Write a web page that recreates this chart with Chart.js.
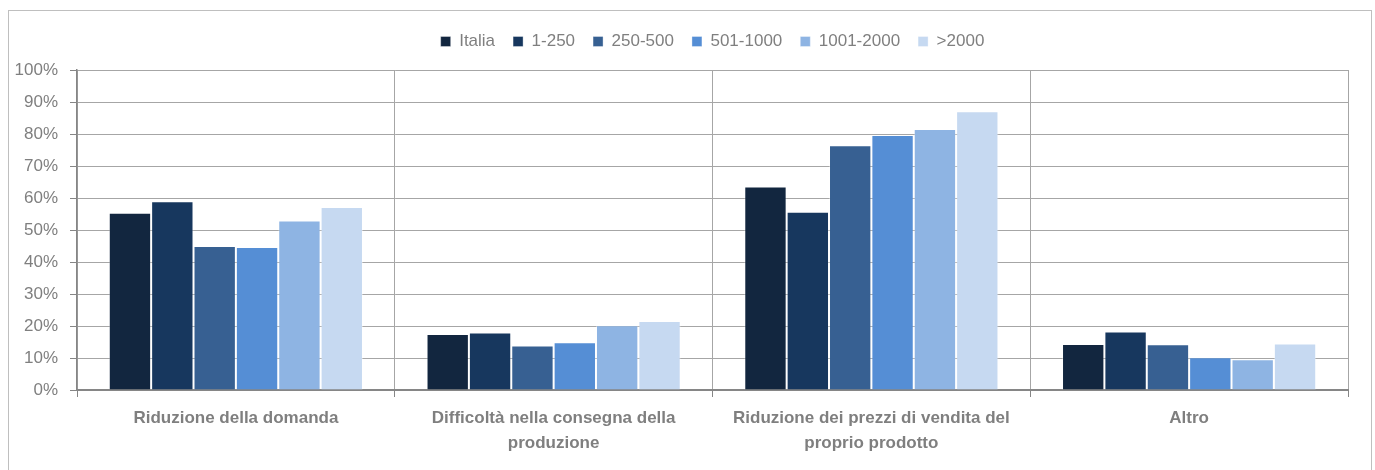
<!DOCTYPE html>
<html>
<head>
<meta charset="utf-8">
<script src="https://cdn.jsdelivr.net/npm/chart.js@4.4.1/dist/chart.umd.min.js"></script>
<style>
  html, body { margin: 0; padding: 0; background: #ffffff; }
  #wrap { width: 1375px; height: 470px; position: relative; }
</style>
</head>
<body>
<div id="wrap"><canvas id="c" width="1375" height="470"></canvas></div>
<script>
const categories = [
  "Riduzione della domanda",
  ["Difficoltà nella consegna della", "produzione"],
  ["Riduzione dei prezzi di vendita del", "proprio prodotto"],
  "Altro"
];
const seriesNames = ["Italia", "1-250", "250-500", "501-1000", "1001-2000", ">2000"];
const italia     = [55.4, 17.5, 63.6, 14.4];
const r1_250     = [59.0, 18.0, 55.7, 18.3];
const r250_500   = [45.0, 13.9, 76.5, 14.3];
const r501_1000  = [44.7, 14.9, 79.7, 10.2];
const r1001_2000 = [53.0, 20.2, 81.6,  9.6];
const r2000plus  = [57.2, 21.6, 87.1, 14.5];
const yTicks = [0, 10, 20, 30, 40, 50, 60, 70, 80, 90, 100];

const seriesValues = [italia, r1_250, r250_500, r501_1000, r1001_2000, r2000plus];
const colors = ["#12263f", "#17375e", "#376092", "#558ed5", "#8eb4e3", "#c6d9f1"];

const FONT = "'Liberation Sans', Arial, sans-serif";
const GREY = "#7f7f7f";

const framePlugin = {
  id: 'frame',
  beforeLayout(chart) {
    const lg = chart.legend;
    if (lg && !lg._fixedH) {
      const orig = lg.fit.bind(lg);
      lg.fit = function () { orig(); this.height = 55; };
      lg._fixedH = true;
    }
  },
  beforeDraw(chart) {
    const ctx = chart.ctx;
    ctx.save();
    ctx.fillStyle = '#ffffff';
    ctx.fillRect(0, 0, chart.width, chart.height);
    ctx.strokeStyle = '#bfbfbf';
    ctx.lineWidth = 1;
    ctx.strokeRect(8.5, 10.5, 1363, 480);
    ctx.restore();
  }
};

new Chart(document.getElementById('c'), {
  type: 'bar',
  data: {
    labels: categories,
    datasets: seriesNames.map((n, i) => ({
      label: n,
      data: seriesValues[i],
      backgroundColor: colors[i],
      borderColor: 'rgba(255,255,255,0.35)',
      borderWidth: 1,
      categoryPercentage: 0.8,
      barPercentage: 1.0
    }))
  },
  options: {
    responsive: false,
    animation: false,
    devicePixelRatio: 1,
    layout: { padding: { left: 0, right: 27, top: 15, bottom: 0 } },
    plugins: {
      legend: {
        position: 'top',
        fullSize: false,
        labels: {
          boxWidth: 10,
          boxHeight: 10,
          padding: 18,
          color: GREY,
          font: { family: FONT, size: 17 }
        }
      },
      tooltip: { enabled: false }
    },
    scales: {
      x: {
        afterFit(scale) { scale.height = 80; },
        grid: {
          offset: true,
          color: '#a6a6a6',
          lineWidth: 1,
          drawTicks: true,
          tickLength: 7,
          tickColor: '#868686'
        },
        border: { color: '#868686', width: 2 },
        ticks: {
          color: GREY,
          padding: 9,
          maxRotation: 0,
          autoSkip: false,
          font: { family: FONT, size: 17, weight: 'bold', lineHeight: 1.45 }
        }
      },
      y: {
        min: 0,
        max: 100,
        afterFit(scale) { scale.width = 77; },
        afterBuildTicks(scale) { scale.ticks = yTicks.map(v => ({ value: v })); },
        grid: {
          color: '#a6a6a6',
          lineWidth: 1,
          drawTicks: true,
          tickLength: 7,
          tickColor: '#868686'
        },
        border: { color: '#868686', width: 1.5 },
        ticks: {
          color: GREY,
          padding: 12,
          font: { family: FONT, size: 17 },
          callback: v => v + '%'
        }
      }
    }
  },
  plugins: [framePlugin]
});
</script>
</body>
</html>
